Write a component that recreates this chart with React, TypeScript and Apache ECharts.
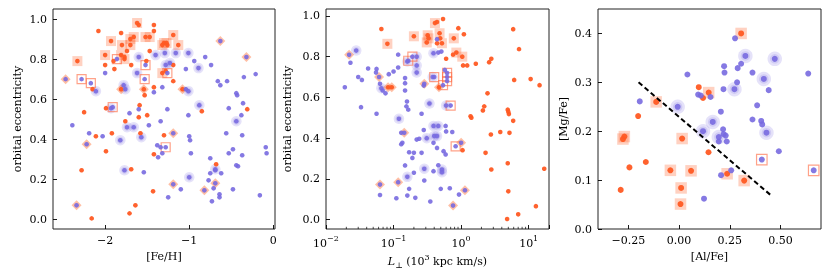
import React, { useEffect, useRef } from 'react';
import * as echarts from 'echarts';

// ---------------- Panel 1: [Fe/H] vs orbital eccentricity ----------------
const p1OrangePlain = [
  [-2.08, 0.94], [-1.6, 0.97], [-1.42, 0.97], [-1.42, 0.94], [-1.81, 0.93], [-1.26, 0.87], [-1.74, 0.84],
  [-1.47, 0.84], [-2.0, 0.77], [-1.89, 0.75], [-1.9, 0.79], [-1.77, 0.81], [-1.69, 0.77], [-1.51, 0.79],
  [-1.19, 0.77], [-1.28, 0.74], [-1.19, 0.69], [-2.15, 0.65], [-2.25, 0.535], [-1.42, 0.66], [-1.53, 0.62],
  [-1.99, 0.555], [-1.59, 0.57], [-1.5, 0.52], [-1.6, 0.51], [-1.76, 0.49], [-0.85, 0.54], [-0.31, 0.55],
  [-1.58, 0.43], [-2.11, 0.415], [-1.92, 0.43], [-1.3, 0.42], [-1.42, 0.325], [-1.99, 0.34], [-0.68, 0.275],
  [-1.69, 0.25], [-2.28, 0.245], [-1.43, 0.14], [-1.64, 0.07], [-1.71, 0.03], [-2.16, 0.005],
];
const p1OrangeSquare = [
  [-2.33, 0.79], [-1.62, 0.98], [-1.66, 0.91], [-1.7, 0.9], [-1.93, 0.89], [-1.52, 0.91], [-1.47, 0.91],
  [-1.8, 0.87], [-1.7, 0.87], [-1.19, 0.92], [-1.3, 0.88], [-1.27, 0.88], [-1.32, 0.87], [-1.13, 0.87],
  [-2.0, 0.82], [-1.81, 0.82], [-1.77, 0.8], [-1.32, 0.73],
];
const p1OrangeDiamond = [[-1.81, 0.65], [-1.54, 0.65], [-1.08, 0.65]];
const p1BluePlain = [
  [-2.0, 0.73], [-1.32, 0.66], [-1.42, 0.635], [-1.26, 0.55], [-1.04, 0.75], [-1.04, 0.65], [-1.01, 0.52],
  [-0.94, 0.79], [-0.81, 0.81], [-0.74, 0.77], [-0.21, 0.725], [-0.35, 0.71], [-0.66, 0.69], [-0.63, 0.67],
  [-0.55, 0.69], [-0.44, 0.63], [-0.43, 0.62], [-0.53, 0.555], [-0.36, 0.58], [-0.38, 0.52], [-2.39, 0.47],
  [-1.6, 0.55], [-1.71, 0.53], [-1.48, 0.47], [-1.34, 0.49],
  [-2.19, 0.43], [-2.03, 0.415], [-1.0, 0.415], [-0.99, 0.395], [-1.38, 0.37], [-1.34, 0.36], [-1.37, 0.31],
  [-1.32, 0.33], [-0.98, 0.33], [-0.56, 0.43], [-0.37, 0.42], [-0.37, 0.32], [-0.53, 0.33], [-0.48, 0.35],
  [-0.44, 0.27], [-0.42, 0.265], [-0.75, 0.305], [-0.09, 0.36], [-0.08, 0.33], [-0.75, 0.23], [-0.62, 0.23],
  [-0.69, 0.245], [-1.54, 0.235], [-1.1, 0.15], [-0.77, 0.195], [-0.71, 0.155], [-0.48, 0.15], [-1.25, 0.11],
  [-0.64, 0.125], [-0.64, 0.11], [-0.73, 0.09], [-0.16, 0.12],
];
const p1BlueHalo = [
  [-2.11, 0.64], [-1.78, 0.67], [-1.76, 0.65], [-1.93, 0.555], [-1.6, 0.81], [-1.62, 0.73], [-1.4, 0.82],
  [-1.29, 0.83], [-1.16, 0.83], [-1.01, 0.83], [-1.28, 0.77], [-1.23, 0.78], [-1.01, 0.64], [-0.89, 0.755],
  [-0.88, 0.57], [-0.44, 0.49], [-1.74, 0.46], [-1.66, 0.46], [-1.82, 0.395], [-1.57, 0.41], [-0.69, 0.25],
  [-1.77, 0.245], [-1.0, 0.21],
];
const p1BlueOpenSquare = [
  [-2.28, 0.7], [-2.17, 0.68], [-1.86, 0.8], [-1.91, 0.56], [-1.52, 0.77], [-1.53, 0.7], [-1.26, 0.73], [-1.28, 0.36],
];
const p1BlueDiamond = [
  [-2.47, 0.7], [-0.63, 0.89], [-0.32, 0.81], [-1.19, 0.43], [-2.22, 0.375], [-1.19, 0.175], [-0.69, 0.18],
  [-0.82, 0.145], [-2.34, 0.07],
];
const p1XTicks = [-2, -1, 0];
const eccTicks = [0, 0.2, 0.4, 0.6, 0.8, 1.0];

// ---------------- Panel 2: L_perp vs orbital eccentricity ----------------
const p2OrangePlain = [
  [0.066, 0.936], [0.44, 0.97], [0.54, 0.985], [0.49, 0.89], [0.44, 0.866], [0.91, 0.94], [1.1, 0.91],
  [0.76, 0.81], [0.6, 0.79], [1.07, 0.757], [1.23, 0.757], [1.65, 0.765], [2.6, 0.773], [2.8, 0.79],
  [5.9, 0.935], [7.2, 0.837], [6.1, 0.686], [10.7, 0.69], [14.5, 0.66], [2.46, 0.62], [2.2, 0.556],
  [2.1, 0.536], [1.38, 0.507], [1.42, 0.5], [4.9, 0.54], [5.0, 0.53], [5.1, 0.518], [5.9, 0.485],
  [1.05, 0.341], [2.3, 0.328], [2.76, 0.418], [3.8, 0.43], [5.2, 0.426], [2.8, 0.246], [4.9, 0.277],
  [17, 0.25], [5.0, 0.139], [12.8, 0.066], [7.0, 0.026], [4.8, 0.003],
];
const p2OrangeSquare = [
  [0.081, 0.863], [0.2, 0.9], [0.32, 0.905], [0.33, 0.89], [0.31, 0.87], [0.41, 0.965], [0.48, 0.915],
  [0.52, 0.866], [0.78, 0.89], [0.85, 0.82], [1.04, 0.8],
];
const p2OrangeDiamond = [[0.083, 0.65], [0.094, 0.65], [0.47, 0.65]];
const p2BluePlain = [
  [0.023, 0.77], [0.03, 0.7], [0.034, 0.686], [0.042, 0.742], [0.056, 0.74], [0.055, 0.722], [0.063, 0.667],
  [0.069, 0.634], [0.076, 0.62], [0.019, 0.65], [0.033, 0.552], [0.056, 0.52], [0.085, 0.714], [0.1, 0.727],
  [0.117, 0.747], [0.117, 0.81], [0.148, 0.695], [0.148, 0.67], [0.148, 0.634], [0.28, 0.658], [0.575, 0.735],
  [0.46, 0.82], [0.51, 0.825], [0.44, 0.886], [0.158, 0.58], [0.155, 0.556], [0.165, 0.54], [0.26, 0.52],
  [0.28, 0.44], [0.59, 0.46], [0.6, 0.433],
  [0.13, 0.426], [0.13, 0.37], [0.135, 0.377], [0.22, 0.393], [0.24, 0.397], [0.39, 0.377], [0.44, 0.352],
  [0.55, 0.336], [0.59, 0.32], [0.74, 0.43], [0.17, 0.331], [0.2, 0.328], [0.19, 0.303], [0.26, 0.328],
  [0.148, 0.266], [0.2, 0.23], [0.39, 0.238], [0.46, 0.267], [0.285, 0.192], [0.063, 0.121], [0.11, 0.105],
  [0.16, 0.118], [0.17, 0.151], [0.21, 0.107], [0.35, 0.089], [0.5, 0.151], [0.68, 0.154], [0.93, 0.123],
];
const p2BlueHalo = [
  [0.028, 0.83], [0.066, 0.645], [0.16, 0.776], [0.22, 0.8], [0.22, 0.757], [0.22, 0.722], [0.38, 0.7],
  [0.39, 0.817], [0.12, 0.495], [0.34, 0.57], [0.6, 0.56], [0.39, 0.46], [0.46, 0.46], [0.31, 0.4],
  [0.4, 0.41], [0.44, 0.41], [0.16, 0.21], [0.285, 0.25], [0.52, 0.246], [0.52, 0.233],
];
const p2BlueOpenSquare = [
  [0.165, 0.78], [0.19, 0.8], [0.4, 0.7], [0.54, 0.66], [0.62, 0.72], [0.62, 0.7], [0.62, 0.68], [0.7, 0.56], [0.83, 0.36],
];
const p2BlueDiamond = [
  [0.022, 0.809], [0.061, 0.7], [0.285, 0.667], [0.144, 0.426], [1.0, 0.377], [0.117, 0.184], [0.063, 0.172],
  [0.76, 0.069], [1.14, 0.144],
];
const p2MinorTicks = [
  0.02, 0.03, 0.04, 0.05, 0.06, 0.07, 0.08, 0.09, 0.2, 0.3, 0.4, 0.5, 0.6, 0.7, 0.8, 0.9, 2, 3, 4, 5, 6, 7, 8, 9,
];

// ---------------- Panel 3: [Al/Fe] vs [Mg/Fe] ----------------
const p3OrangePlain = [
  [0.097, 0.29], [0.118, 0.268], [-0.202, 0.231], [0.145, 0.157], [-0.245, 0.126], [-0.164, 0.137], [-0.288, 0.08],
];
const p3OrangeSquare = [
  [0.306, 0.4], [0.146, 0.279], [-0.113, 0.26], [-0.27, 0.189], [-0.277, 0.184], [0.015, 0.185], [-0.043, 0.12],
  [0.059, 0.119], [0.01, 0.084], [0.007, 0.051], [0.237, 0.113], [0.321, 0.099],
];
const p3BluePlain = [
  [0.276, 0.39], [0.306, 0.338], [0.289, 0.329], [0.222, 0.333], [0.224, 0.32], [0.362, 0.32], [0.637, 0.318],
  [0.041, 0.316], [0.286, 0.3], [0.219, 0.286], [0.442, 0.284], [0.094, 0.275], [0.107, 0.273], [0.155, 0.27],
  [-0.194, 0.261], [0.206, 0.24], [0.385, 0.253], [0.362, 0.224], [0.405, 0.221], [0.41, 0.214], [0.217, 0.204],
  [0.22, 0.194], [0.23, 0.191], [0.196, 0.179], [0.235, 0.179], [0.492, 0.159], [0.257, 0.12], [0.207, 0.11],
  [0.123, 0.062],
];
const p3BlueHalo = [
  [0.327, 0.354], [0.472, 0.348], [0.273, 0.286], [0.418, 0.307], [-0.007, 0.25], [0.166, 0.219], [0.118, 0.2],
  [0.431, 0.197], [0.196, 0.188],
];
const p3BlueOpenSquare = [[0.408, 0.142], [0.664, 0.12]];
const p3DashedLine = [[-0.2, 0.3], [0.45, 0.07]];
const p3XTicks = [-0.25, 0, 0.25, 0.5];
const p3YTicks = [0, 0.1, 0.2, 0.3, 0.4];

// ---------------- styles ----------------
const FONT = 'DejaVu Serif';
const BLUE = '#786ae0';
const ORANGE = '#ff5a23';
const HALO = 'rgba(120,106,224,0.24)';
const SQUARE_FILL = 'rgba(255,95,40,0.36)';
const DIAMOND_FILL = 'rgba(255,110,50,0.55)';
const OPEN_SQ = 'rgba(255,110,70,0.8)';

type Pt = number[];
interface PanelData {
  orangePlain: Pt[]; orangeSquare: Pt[]; orangeDiamond: Pt[];
  bluePlain: Pt[]; blueHalo: Pt[]; blueOpenSquare: Pt[]; blueDiamond: Pt[];
}
interface Sizes { dot: number; haloOuter: number; haloInner: number; square: number; diamond: number; open: number; }

function panelSeries(i: number, d: PanelData, s: Sizes): any[] {
  const ax = { xAxisIndex: i, yAxisIndex: i, silent: true, emphasis: { disabled: true } };
  return [
    { type: 'scatter', ...ax, data: d.blueHalo, symbol: 'circle', symbolSize: s.haloOuter, itemStyle: { color: HALO } },
    { type: 'scatter', ...ax, data: d.blueHalo, symbol: 'circle', symbolSize: s.haloInner, itemStyle: { color: HALO } },
    { type: 'scatter', ...ax, data: d.orangeSquare, symbol: 'rect', symbolSize: s.square, itemStyle: { color: SQUARE_FILL } },
    { type: 'scatter', ...ax, data: [...d.blueDiamond, ...d.orangeDiamond], symbol: 'diamond', symbolSize: s.diamond, itemStyle: { color: DIAMOND_FILL } },
    {
      type: 'scatter', ...ax, data: d.blueOpenSquare, symbol: 'rect', symbolSize: s.open,
      itemStyle: { color: 'rgba(0,0,0,0)', borderColor: OPEN_SQ, borderWidth: 1.2 },
    },
    {
      type: 'scatter', ...ax, data: [...d.orangePlain, ...d.orangeSquare, ...d.orangeDiamond], symbol: 'circle',
      symbolSize: s.dot, itemStyle: { color: ORANGE, opacity: 0.95 },
    },
    {
      type: 'scatter', ...ax, data: [...d.bluePlain, ...d.blueHalo, ...d.blueOpenSquare, ...d.blueDiamond], symbol: 'circle',
      symbolSize: s.dot, itemStyle: { color: BLUE, opacity: 0.9 },
    },
  ];
}

const minusFmt = (v: number, dec: number) => (v < 0 ? '\u2212' : '') + (dec >= 0 ? Math.abs(v).toFixed(dec) : String(Math.abs(v)));

const tickStyle = { inside: true, length: 4, lineStyle: { color: '#000', width: 0.9 } };
const labelBase = { color: '#000', fontFamily: FONT, fontSize: 11 };
const nameStyle = { color: '#000', fontFamily: FONT, fontSize: 11 };

function valueAxis(gridIndex: number, min: number, max: number, ticks: number[], fmt: (v: number) => string, extra: any = {}) {
  return {
    type: 'value', gridIndex, min, max,
    axisLine: { show: false, onZero: false },
    splitLine: { show: false },
    axisTick: { ...tickStyle, customValues: ticks },
    axisLabel: { ...labelBase, customValues: ticks, formatter: fmt, margin: 6 },
    nameTextStyle: nameStyle,
    nameLocation: 'middle',
    ...extra,
  };
}

export default function App() {
  const ref = useRef<HTMLDivElement>(null);
  useEffect(() => {
    if (!ref.current) return;
    const chart = echarts.init(ref.current, null, { renderer: 'svg' });
    const p1: PanelData = {
      orangePlain: p1OrangePlain, orangeSquare: p1OrangeSquare, orangeDiamond: p1OrangeDiamond,
      bluePlain: p1BluePlain, blueHalo: p1BlueHalo, blueOpenSquare: p1BlueOpenSquare, blueDiamond: p1BlueDiamond,
    };
    const p2: PanelData = {
      orangePlain: p2OrangePlain, orangeSquare: p2OrangeSquare, orangeDiamond: p2OrangeDiamond,
      bluePlain: p2BluePlain, blueHalo: p2BlueHalo, blueOpenSquare: p2BlueOpenSquare, blueDiamond: p2BlueDiamond,
    };
    const p3: PanelData = {
      orangePlain: p3OrangePlain, orangeSquare: p3OrangeSquare, orangeDiamond: [],
      bluePlain: p3BluePlain, blueHalo: p3BlueHalo, blueOpenSquare: p3BlueOpenSquare, blueDiamond: [],
    };
    const small: Sizes = { dot: 4.6, haloOuter: 10.5, haloInner: 7, square: 10, diamond: 10, open: 9 };
    const big: Sizes = { dot: 6, haloOuter: 14.5, haloInner: 9.5, square: 11.5, diamond: 12, open: 10.5 };

    const gridBase = { show: true, borderColor: '#222', borderWidth: 1, backgroundColor: 'transparent', top: 9, height: 220 };
    const option: any = {
      animation: false,
      textStyle: { fontFamily: FONT },
      grid: [
        { ...gridBase, left: 53, width: 222 },
        { ...gridBase, left: 326, width: 223 },
        { ...gridBase, left: 598, width: 223 },
      ],
      xAxis: [
        valueAxis(0, -2.62, 0.02, p1XTicks, (v) => minusFmt(v, -1), { name: '[Fe/H]', nameGap: 22 }),
        {
          type: 'log', gridIndex: 1, logBase: 10, min: 0.01, max: 20,
          axisLine: { show: false, onZero: false }, splitLine: { show: false },
          axisTick: tickStyle,
          axisLabel: {
            ...labelBase, margin: 5,
            formatter: (v: number) => {
              const l = Math.log10(v);
              const e = Math.round(l);
              if (Math.abs(l - e) > 1e-6) return '';
              return '{b|10}{s|' + (e < 0 ? '\u2212' + -e : String(e)) + '}';
            },
            rich: {
              b: { fontFamily: FONT, fontSize: 11, color: '#000', lineHeight: 15, verticalAlign: 'bottom' },
              s: { fontFamily: FONT, fontSize: 8, color: '#000', lineHeight: 9, verticalAlign: 'top' },
            },
          },
          name: '{i|L}{sub|\u22A5}{n| (10}{sup|3}{n| kpc km/s)}',
          nameLocation: 'middle', nameGap: 21,
          nameTextStyle: {
            ...nameStyle,
            rich: {
              i: { fontFamily: FONT, fontSize: 11, fontStyle: 'italic', color: '#000', lineHeight: 16, verticalAlign: 'middle' },
              sub: { fontFamily: FONT, fontSize: 8, color: '#000', lineHeight: 9, verticalAlign: 'bottom' },
              n: { fontFamily: FONT, fontSize: 11, color: '#000', lineHeight: 16, verticalAlign: 'middle' },
              sup: { fontFamily: FONT, fontSize: 8, color: '#000', lineHeight: 9, verticalAlign: 'top' },
            },
          },
        },
        valueAxis(2, -0.4, 0.7, p3XTicks, (v) => minusFmt(v, 2), { name: '[Al/Fe]', nameGap: 22 }),
      ],
      yAxis: [
        valueAxis(0, -0.048, 1.05, eccTicks, (v) => v.toFixed(1), { name: 'orbital eccentricity', nameGap: 30 }),
        valueAxis(1, -0.046, 1.034, eccTicks, (v) => v.toFixed(1), { name: 'orbital eccentricity', nameGap: 33 }),
        valueAxis(2, 0, 0.45, p3YTicks, (v) => v.toFixed(1), { name: '[Mg/Fe]', nameGap: 29 }),
      ],
      series: [
        ...panelSeries(0, p1, small),
        ...panelSeries(1, p2, small),
        {
          type: 'custom', xAxisIndex: 1, yAxisIndex: 1, silent: true,
          data: p2MinorTicks.map((v) => [v, 0]),
          renderItem: (params: any, api: any) => {
            const cs = params.coordSys;
            const x = api.coord([api.value(0), 0.5])[0];
            const yb = cs.y + cs.height;
            return {
              type: 'line',
              shape: { x1: x, y1: yb, x2: x, y2: yb - 2.2 },
              style: { stroke: '#000', lineWidth: 0.7 },
            };
          },
        },
        ...panelSeries(2, p3, big),
        {
          type: 'line', xAxisIndex: 2, yAxisIndex: 2, data: p3DashedLine, symbol: 'none', silent: true,
          lineStyle: { color: '#000', width: 2, type: [5, 3] }, z: 5,
        },
      ],
    };
    chart.setOption(option);
    return () => chart.dispose();
  }, []);
  return <div ref={ref} style={{ position: 'fixed', left: 0, top: 0, width: 830, height: 278 }} />;
}
